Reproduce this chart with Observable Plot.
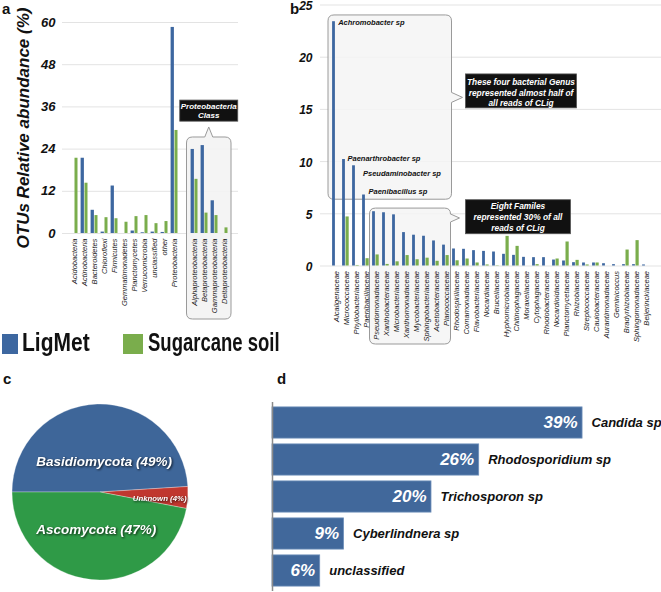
<!DOCTYPE html>
<html><head><meta charset="utf-8">
<script src="https://cdn.jsdelivr.net/npm/d3@7"></script>
<script src="https://cdn.jsdelivr.net/npm/@observablehq/plot@0.6"></script>
<style>
html,body{margin:0;padding:0;background:#fff;}
#fig{position:relative;width:661px;height:592px;overflow:hidden;background:#fff;font-family:'Liberation Sans',Arial,Helvetica,sans-serif;}
.pnl{position:absolute;}
.letter{position:absolute;font-weight:bold;font-size:15px;line-height:1;color:#111;}
.leg{position:absolute;top:334px;height:20px;}
.sw{position:absolute;top:0;width:16px;height:20px;}
.lt{position:absolute;top:-4px;font-family:'Liberation Sans',Arial,sans-serif;font-weight:bold;font-size:25px;line-height:1;color:#111;white-space:nowrap;transform-origin:0 50%;}
g[aria-label="y-axis tick label"] text{font-weight:bold;font-style:italic;font-size:13px;fill:#111;}
#pb g[aria-label="y-axis tick label"] text{font-size:12px;}
g[aria-label="x-axis tick label"] text{font-style:italic;font-size:7.5px;fill:#222;}
g[aria-label="y-axis label"] text{font-weight:bold;font-style:italic;font-size:17px;fill:#111;}
g[aria-label="pct"] text, .shadow{filter:drop-shadow(1px 1px 1px rgba(0,0,0,0.75));}
</style>
</head><body>
<div id="fig"></div>
<script>
// ---------- data ----------
const seriesNames = ["LigMet", "Sugarcane soil"];

const aCats = ["Acidobacteria","Actinobacteria","Bacteroidetes","Chloroflexi","Firmicutes","Gemmatimonadetes","Planctomycetes","Verrucomicrobia","unclassified","other","Proteobacteria"," ","Alphaproteobacteria","Betaproteobacteria","Gammaproteobacteria","Deltaproteobacteria"];
const aLig  = [0, 21.4, 6.6, 0.4, 13.5, 0, 0.7, 0.2, 0.4, 0.3, 58.6, null, 23.9, 25.0, 9.3, 0];
const aSoil = [21.4, 14.3, 5.1, 4.5, 4.2, 3.2, 4.8, 5.1, 2.8, 3.4, 29.3, null, 15.4, 5.8, 5.1, 1.6];
const aTicks = [0, 12, 24, 36, 48, 60];
const aYLabel = "OTUs Relative abundance (%)";
const aNote = ["Proteobacteria", "Class"];

const bCats = ["Alcaligenaceae","Micrococcaceae","Phyllobacteriaceae","Paenibacillaceae","Pseudomonadaceae","Xanthobacteraceae","Microbacteriaceae","Xanthomonadaceae","Mycobacteriaceae","Sphingobacteriaceae","Acetobacteraceae","Planococcaceae","Rhodospirillaceae","Comamonadaceae","Flavobacteriaceae","Nocardiaceae","Brucellaceae","Hyphomicrobiaceae","Chitinophagaceae","Moraxellaceae","Cytophagaceae","Rhodobacteraceae","Nocardioidaceae","Planctomycetaceae","Rhizobiaceae","Streptococcaceae","Caulobacteraceae","Aurantimonadaceae","Geminicoccus","Bradyrhizobiaceae","Sphingomonadaceae","Beijerinckiaceae"];
const bLig  = [23.4, 10.2, 9.6, 6.8, 5.2, 5.1, 4.9, 3.2, 2.95, 2.85, 2.4, 2.0, 1.63, 1.6, 1.47, 1.4, 1.34, 1.12, 1.02, 0.83, 0.8, 0.8, 0.57, 0.48, 0.32, 0.29, 0.29, 0.22, 0.13, 0.13, 0.13, 0.1];
const bSoil = [0, 4.7, 0.05, 0.7, 1.06, 0.15, 0.4, 1.0, 0.6, 0.75, 0.45, 1.0, 0.5, 0.67, 0.29, 0.1, 0.03, 2.84, 1.88, 0, 0.13, 0, 0.67, 2.3, 0.54, 0.1, 0.29, 0, 0, 1.53, 2.43, 0];
const bTicks = [0, 5, 10, 15, 20, 25];
const bGenusCats = ["Alcaligenaceae","Micrococcaceae","Phyllobacteriaceae","Paenibacillaceae"];
const bGenusNames = ["Achromobacter sp","Paenarthrobacter sp","Pseudaminobacter sp","Paenibacillus sp"];
const bNote1 = ["These four bacterial Genus", "represented almost half of", "all reads of CLig"];
const bNote2 = ["Eight Familes", "represented 30% of all", "reads of CLig"];

const pieCats = ["Basidiomycota", "Unknown", "Ascomycota"];
const pieVals = [49, 4, 47];

const dCats = ["Candida sp","Rhodosporidium sp","Trichosporon sp","Cyberlindnera sp","unclassified"];
const dVals = [39, 26, 20, 9, 6];

// ---------- styles ----------
const FONT = "'Liberation Sans', Arial, Helvetica, sans-serif";
const BLUE = "#3d67a0", GREEN = "#7aad4c";
const PIE_COLORS = ["#3e6699", "#c0372f", "#2f9a47"];
const D_BLUE = "#41689b";
const fig = document.getElementById("fig");

function place(el, left, top, id) {
  el.classList.add("pnl");
  if (id) el.id = id;
  el.style.left = left + "px"; el.style.top = top + "px";
  fig.appendChild(el);
}
function bwOf(s, fallback) { return s && s.bandwidth ? s.bandwidth() : fallback; }

// rounded box with a notch (top or right)
function notchBox(x0, y0, x1, y1, r, side, pos, nh, nw) {
  let p = `M${x0 + r},${y0}`;
  if (side === "top") p += `L${pos - nw},${y0}L${pos},${y0 - nh}L${pos + nw},${y0}`;
  p += `L${x1 - r},${y0}Q${x1},${y0} ${x1},${y0 + r}`;
  if (side === "right") p += `L${x1},${pos - nw}L${x1 + nh},${pos}L${x1},${pos + nw}`;
  p += `L${x1},${y1 - r}Q${x1},${y1} ${x1 - r},${y1}L${x0 + r},${y1}Q${x0},${y1} ${x0},${y1 - r}L${x0},${y0 + r}Q${x0},${y0} ${x0 + r},${y0}Z`;
  return p;
}
function noteBox(g, x0, y0, w, h, lines, baselines, fs) {
  g.append("rect").attr("x", x0).attr("y", y0).attr("width", w).attr("height", h)
    .attr("fill", "#111").attr("stroke", "#555").attr("stroke-width", 0.8);
  lines.forEach((t, i) => {
    g.append("text").attr("x", x0 + w / 2).attr("y", y0 + baselines[i])
      .attr("text-anchor", "middle").attr("fill", "#fff").attr("font-size", fs)
      .attr("font-weight", "bold").attr("font-style", "italic").attr("font-family", FONT).text(t);
  });
}

// ---------- panel a ----------
const aData = aCats.map((c, i) => ({cat: c, lig: aLig[i], soil: aSoil[i]})).filter(d => d.lig != null);
function calloutA(index, scales, values, dims) {
  const x = scales.x, y = scales.y;
  const bw = bwOf(x, 10.625);
  const x0 = x("Alphaproteobacteria") - 2.5, x1 = x("Deltaproteobacteria") + bw + 2;
  const yt = y(27.3), yb = dims.height - 11, cx = (x0 + x1) / 2;
  const g = d3.create("svg:g");
  g.append("path").attr("d", notchBox(x0, yt, x1, yb, 6, "top", cx, 10, 4))
    .attr("fill", "#f3f3f3").attr("fill-opacity", 0.9).attr("stroke", "#9a9a9a").attr("stroke-width", 1);
  noteBox(g, cx - 29, y(37.8), 58, y(31.8) - y(37.8), aNote, [9, 18], 8);
  return g.node();
}
const plotA = Plot.plot({
  width: 250, height: 330, marginLeft: 62, marginRight: 12, marginTop: 22, marginBottom: 97,
  style: {fontFamily: FONT, background: "transparent", overflow: "visible"},
  x: {type: "band", domain: aCats, range: [64, 234], padding: 0},
  y: {domain: [0, 60]},
  marks: [
    Plot.ruleY(aTicks, {stroke: "#e3e3e3"}),
    calloutA,
    Plot.barY(aData, {x: "cat", y: "lig", fill: BLUE, insetLeft: 1.6, insetRight: 5.1}),
    Plot.barY(aData, {x: "cat", y: "soil", fill: GREEN, insetLeft: 5.5, insetRight: 1.5}),
    Plot.axisY({ticks: aTicks, tickSize: 0, tickPadding: 7, label: aYLabel, labelAnchor: "center", labelOffset: 46, labelArrow: "none"}),
    Plot.axisX({tickRotate: -90, tickSize: 0, tickPadding: 5, tickFormat: d => d.trim(), label: null})
  ]
});
place(plotA, 0, 0, "pa");

// ---------- panel b ----------
const bData = bCats.map((c, i) => ({cat: c, lig: bLig[i], soil: bSoil[i]}));
const bLabelData = bGenusCats.map((c, i) => ({cat: c, v: bLig[bCats.indexOf(c)], name: bGenusNames[i]}));
function calloutsB(index, scales, values, dims) {
  const x = scales.x, y = scales.y;
  const g = d3.create("svg:g");
  const xr = x("Rhodospirillaceae") + 0.5;
  g.append("path").attr("d", notchBox(x("Alcaligenaceae") - 3, y(24.0), xr, y(6.35), 6, "right", y(16.1), 11, 5))
    .attr("fill", "#f4f4f4").attr("fill-opacity", 0.85).attr("stroke", "#9a9a9a").attr("stroke-width", 1);
  g.append("path").attr("d", notchBox(x("Pseudomonadaceae") - 1.5, y(5.5), xr - 1, dims.height - 1, 6, "right", y(4.55), 9, 4))
    .attr("fill", "#f4f4f4").attr("fill-opacity", 0.85).attr("stroke", "#9a9a9a").attr("stroke-width", 1);
  return g.node();
}
function notesB(index, scales, values, dims) {
  const x = scales.x, y = scales.y;
  const g = d3.create("svg:g");
  const xr = x("Rhodospirillaceae") + 0.5;
  noteBox(g, xr + 14, y(18.35), 111, y(15.1) - y(18.35), bNote1, [11, 22, 32.5], 8.4);
  noteBox(g, xr + 14, y(6.3), 105, 34, bNote2, [9.5, 20.5, 31], 8.4);
  return g.node();
}
const gText = {fontSize: 7.5, fontWeight: "bold", fontStyle: "italic", fill: "#111", textAnchor: "start", lineAnchor: "bottom"};
const plotB = Plot.plot({
  width: 371, height: 345, marginLeft: 30, marginRight: 0, marginTop: 4.5, marginBottom: 79.5,
  style: {fontFamily: FONT, background: "transparent", overflow: "visible"},
  x: {type: "band", domain: bCats, range: [31, 370.2], padding: 0},
  y: {domain: [0, 25]},
  marks: [
    Plot.ruleY(bTicks, {stroke: "#e3e3e3"}),
    calloutsB,
    Plot.barY(bData, {x: "cat", y: "lig", fill: BLUE, insetLeft: 1.1, insetRight: 6.1}),
    Plot.barY(bData, {x: "cat", y: "soil", fill: GREEN, insetLeft: 4.5, insetRight: 2.3}),
    Plot.text(bLabelData.slice(0, 1), {x: "cat", y: "v", text: "name", dx: 1.7, dy: 3, ...gText}),
    Plot.text(bLabelData.slice(1, 2), {x: "cat", y: "v", text: "name", dx: 1, dy: 1, ...gText}),
    Plot.text(bLabelData.slice(2, 3), {x: "cat", y: "v", text: "name", dx: 6.5, dy: 10.7, ...gText}),
    Plot.text(bLabelData.slice(3, 4), {x: "cat", y: "v", text: "name", dx: 2, dy: -1.5, ...gText}),
    notesB,
    Plot.axisY({ticks: bTicks, tickSize: 0, tickPadding: 8, dy: 1.2, label: null}),
    Plot.axisX({tickRotate: -90, tickSize: 0, tickPadding: 5, label: null})
  ]
});
place(plotB, 290, 0, "pb");

// ---------- panel c (pie) ----------
const pieData = pieCats.map((c, i) => ({cat: c, v: pieVals[i]}));
function pieMark(index, scales, values, dims) {
  const cx = dims.width / 2, cy = dims.height / 2, R = Math.min(dims.width, dims.height) / 2 - 12;
  const arcs = d3.pie().sort(null).value(d => d.v).startAngle(-Math.PI / 2).endAngle(1.5 * Math.PI)(pieData);
  const arc = d3.arc().innerRadius(0).outerRadius(R);
  const g = d3.create("svg:g").attr("transform", `translate(${cx},${cy})`);
  g.selectAll("path").data(arcs).join("path").attr("d", arc)
    .attr("fill", d => scales.color(d.data.cat)).attr("stroke", "#fff").attr("stroke-width", 0.3);
  const lr = [0.3, 0.68, 0.46], fs = [13.5, 7.8, 13.5], shift = [5, 0, 0], base = [0, 5, 2];
  arcs.forEach((a, i) => {
    const [lx, ly] = d3.arc().innerRadius(R * lr[i]).outerRadius(R * lr[i]).centroid(a);
    g.append("text").attr("class", "shadow").attr("x", lx + shift[i]).attr("y", ly + base[i])
      .attr("text-anchor", "middle").attr("fill", "#fff").attr("font-size", fs[i])
      .attr("font-weight", "bold").attr("font-style", "italic").attr("font-family", FONT)
      .text(`${a.data.cat} (${a.data.v}%)`);
  });
  return g.node();
}
const plotC = Plot.plot({
  width: 200, height: 200, margin: 0,
  style: {fontFamily: FONT, background: "transparent", overflow: "visible"},
  color: {domain: pieCats, range: PIE_COLORS},
  x: {axis: null}, y: {axis: null},
  marks: [pieMark]
});
place(plotC, 0, 392, "pc");

// ---------- panel d ----------
const dData = dCats.map((c, i) => ({name: c, v: dVals[i]}));
const plotD = Plot.plot({
  width: 411, height: 202, marginLeft: 22, marginRight: 0, marginTop: 12, marginBottom: 1,
  style: {fontFamily: FONT, background: "transparent", overflow: "visible"},
  x: {domain: [0, 49], range: [22, 411.55], axis: null},
  y: {type: "band", domain: dCats, padding: 0, axis: null},
  marks: [
    Plot.barX(dData, {x: "v", y: "name", fill: D_BLUE, stroke: "#7091bb", strokeWidth: 0.8, insetTop: 2.9, insetBottom: 2.9}),
    Plot.ruleX([0], {stroke: "#8a8a8a", strokeWidth: 1.5}),
    Plot.text(dData, {x: "v", y: "name", text: d => d.v + "%", textAnchor: "end", dx: -5, fill: "#fff", fontSize: 17, fontWeight: "bold", fontStyle: "italic", ariaLabel: "pct"}),
    Plot.text(dData, {x: "v", y: "name", text: "name", textAnchor: "start", dx: 9, fill: "#111", fontSize: 13, fontWeight: "bold", fontStyle: "italic"})
  ]
});
place(plotD, 250, 390, "pd");

// ---------- letters & legend ----------
[["a", 2, 1], ["b", 290, 1], ["c", 3, 371], ["d", 277, 371]].forEach(([t, l, tp]) => {
  const s = document.createElement("div"); s.className = "letter"; s.textContent = t;
  s.style.left = l + "px"; s.style.top = tp + "px"; fig.appendChild(s);
});
[[seriesNames[0], BLUE, 2, 16, 20, 0.84], [seriesNames[1], GREEN, 123, 20, 25, 0.74]].forEach(([t, c, l, w, tl, sx]) => {
  const leg = document.createElement("div"); leg.className = "leg"; leg.style.left = l + "px";
  const sw = document.createElement("div"); sw.className = "sw"; sw.style.background = c; sw.style.width = w + "px";
  const tx = document.createElement("div"); tx.className = "lt"; tx.textContent = t; tx.style.left = tl + "px";
  tx.style.transform = `scaleX(${sx})`;
  leg.appendChild(sw); leg.appendChild(tx); fig.appendChild(leg);
});
</script>
</body></html>
